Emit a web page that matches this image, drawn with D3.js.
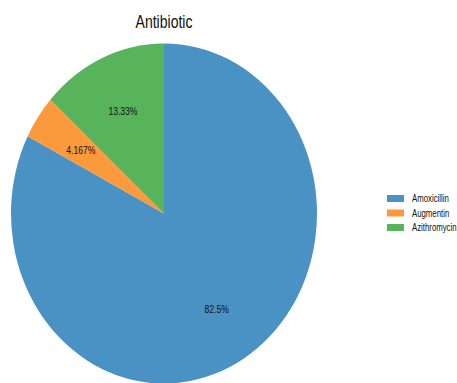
<!DOCTYPE html>
<html>
<head>
<meta charset="utf-8">
<script src="https://cdn.jsdelivr.net/npm/d3@7"></script>
<style>
  html, body { margin: 0; padding: 0; background: #fff; }
  svg { display: block; }
  text { font-family: "Liberation Sans", Arial, sans-serif; fill: #111; }
</style>
</head>
<body>
<svg id="chart" width="457" height="383"></svg>
<script>
const categories = ["Amoxicillin", "Augmentin", "Azithromycin"];
const counts = [99, 5, 16];
const percentLabels = ["82.5%", "4.167%", "13.33%"];
const colors = ["#4b92c4", "#fb9a3d", "#58b45a"];

const svg = d3.select("#chart");
const cx = 164, cy = 213.5, r = 170, sx = 0.9;
// condensed lettering: squeeze glyphs horizontally
const narrow = 0.78;

svg.append("text")
  .attr("transform", `translate(${cx},28) scale(${narrow},1)`)
  .attr("text-anchor", "middle")
  .attr("font-size", 18)
  .text("Antibiotic");

const pie = d3.pie().sort(null).value(d => d);
const arcs = pie(counts);
const arc = d3.arc().innerRadius(0).outerRadius(r);
const labelArc = d3.arc().innerRadius(r * 0.66).outerRadius(r * 0.66);

const g = svg.append("g").attr("transform", `translate(${cx},${cy}) scale(${sx},1)`);
g.selectAll("path").data(arcs).join("path")
  .attr("d", arc)
  .attr("fill", (d, i) => colors[i]);

svg.append("g").selectAll("text").data(arcs).join("text")
  .attr("transform", d => {
    const [x, y] = labelArc.centroid(d);
    return `translate(${cx + x * sx},${cy + y}) scale(${narrow},1)`;
  })
  .attr("dy", "0.35em")
  .attr("text-anchor", "middle")
  .attr("font-size", 11)
  .text((d, i) => percentLabels[i]);

const legend = svg.append("g").attr("transform", "translate(387,195)");
const rows = legend.selectAll("g").data(categories).join("g")
  .attr("transform", (d, i) => `translate(0,${i * 14.5})`);
rows.append("rect").attr("width", 17).attr("height", 7).attr("fill", (d, i) => colors[i]);
rows.append("text")
  .attr("transform", `translate(25,3.5) scale(${narrow},1)`)
  .attr("dy", "0.35em")
  .attr("font-size", 10).text(d => d);
</script>
</body>
</html>
